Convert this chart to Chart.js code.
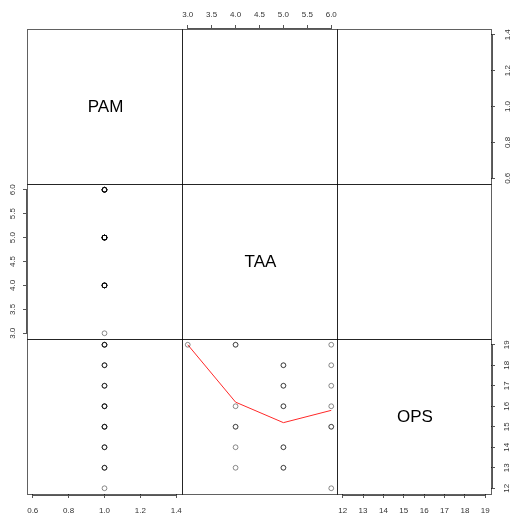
<!DOCTYPE html>
<html>
<head>
<meta charset="utf-8">
<script src="https://cdn.jsdelivr.net/npm/chart.js@4/dist/chart.umd.min.js"></script>
<style>
  html, body { margin: 0; padding: 0; background: #fff; overflow: hidden; }
  #grid { position: relative; width: 510px; height: 520px; overflow: hidden; background: #fff; }
  #grid canvas { position: absolute; }
</style>
</head>
<body>
<div id="grid"></div>
<script>
// Variables of the scatterplot matrix
const varNames = ['PAM', 'TAA', 'OPS'];

// One entry per observation
const pam = [1, 1, 1, 1, 1, 1, 1, 1, 1, 1, 1, 1, 1, 1, 1, 1, 1, 1, 1, 1, 1, 1, 1, 1, 1];
const taa = [3, 4, 4, 4, 4, 4, 4, 4, 5, 5, 5, 5, 5, 5, 5, 5, 5, 5, 6, 6, 6, 6, 6, 6, 6];
const ops = [19, 19, 19, 16, 15, 15, 14, 13, 18, 18, 17, 17, 16, 16, 14, 14, 13, 13, 19, 18, 17, 16, 15, 15, 12];

// Smoothed OPS ~ TAA curve
const smoothTaa = [3, 4, 5, 6];
const smoothOps = [19, 16.2, 15.2, 15.8];

// Axis tick labels
const pamTicks = ['0.6', '0.8', '1.0', '1.2', '1.4'];
const taaTicks = ['3.0', '3.5', '4.0', '4.5', '5.0', '5.5', '6.0'];
const opsTicks = ['12', '13', '14', '15', '16', '17', '18', '19'];

const columns = [pam, taa, ops];
const tickSets = [pamTicks, taaTicks, opsTicks];

// Panel edges on the page
const edgesX = [27, 182, 337, 491];
const edgesY = [29, 184, 339, 494];
const M = 30;

// Plot limits: zero-width ranges are widened, then 4% extension on each side
function limits(vals) {
  let lo = Math.min(...vals), hi = Math.max(...vals);
  if (lo === hi) { lo = lo - 0.4 * Math.abs(lo); hi = hi + 0.4 * Math.abs(hi); }
  const d = (hi - lo) * 0.04;
  return [lo - d, hi + d];
}
const ranges = columns.map(limits);

// Panel frame, axis lines and diagonal names
const panelPlugin = {
  id: 'panelDecor',
  afterDraw(chart, args, opts) {
    const ctx = chart.ctx;
    const a = chart.chartArea;
    ctx.save();
    ctx.strokeStyle = 'rgba(0,0,0,0.62)';
    ctx.lineWidth = 1;
    ctx.strokeRect(Math.round(a.left) + 0.5, Math.round(a.top) + 0.5,
                   Math.round(a.right - a.left), Math.round(a.bottom - a.top));
    // axis lines spanning first to last tick
    ctx.strokeStyle = '#555';
    Object.values(chart.scales).forEach(s => {
      if (!s.options.display || !s.ticks.length) return;
      const p0 = s.getPixelForValue(s.ticks[0].value);
      const p1 = s.getPixelForValue(s.ticks[s.ticks.length - 1].value);
      ctx.beginPath();
      const pos = s.options.position;
      if (pos === 'bottom') { const y = Math.round(a.bottom) + 1.5; ctx.moveTo(p0, y); ctx.lineTo(p1, y); }
      if (pos === 'top') { const y = Math.round(a.top) - 0.5; ctx.moveTo(p0, y); ctx.lineTo(p1, y); }
      if (pos === 'left') { const x = Math.round(a.left) - 0.5; ctx.moveTo(x, p0); ctx.lineTo(x, p1); }
      if (pos === 'right') { const x = Math.round(a.right) + 1.5; ctx.moveTo(x, p0); ctx.lineTo(x, p1); }
      ctx.stroke();
    });
    if (opts && opts.text) {
      ctx.fillStyle = '#000';
      ctx.font = '17px "Liberation Sans", Arial, sans-serif';
      ctx.textAlign = 'center';
      ctx.textBaseline = 'middle';
      ctx.fillText(opts.text, (a.left + a.right) / 2 + 1, (a.top + a.bottom) / 2 + 1);
    }
    ctx.restore();
  }
};

function scaleOptions(idx, axis, position, visible) {
  const labels = tickSets[idx];
  const vertical = axis === 'y';
  return {
    type: 'linear',
    position: position,
    display: visible,
    min: ranges[idx][0],
    max: ranges[idx][1],
    afterBuildTicks: s => { s.ticks = labels.map(t => ({ value: parseFloat(t) })); },
    afterFit: s => {
      if (!visible) return;
      if (vertical) s.width = M; else s.height = M;
    },
    border: { display: false },
    grid: {
      display: true, drawOnChartArea: false, drawTicks: true,
      tickLength: 4, color: '#555', lineWidth: 1
    },
    ticks: {
      autoSkip: false,
      callback: (v, i) => labels[i],
      font: { family: '"Liberation Sans", Arial, sans-serif', size: 8 },
      color: '#333',
      padding: vertical ? (position === 'left' ? 5 : 7) : (position === 'top' ? 10 : 13),
      minRotation: vertical ? 90 : 0,
      maxRotation: vertical ? 90 : 0,
      crossAlign: 'center'
    }
  };
}

const grid = document.getElementById('grid');
const n = varNames.length;

for (let r = 0; r < n; r++) {
  for (let c = 0; c < n; c++) {
    const w = edgesX[c + 1] - edgesX[c];
    const h = edgesY[r + 1] - edgesY[r];
    const canvas = document.createElement('canvas');
    canvas.width = w + 2 * M;
    canvas.height = h + 2 * M;
    canvas.style.left = (edgesX[c] - M) + 'px';
    canvas.style.top = (edgesY[r] - M) + 'px';
    canvas.style.width = canvas.width + 'px';
    canvas.style.height = canvas.height + 'px';
    grid.appendChild(canvas);

    // axis sides alternate along the outer edges
    const xPos = (c % 2 === 0) ? 'bottom' : 'top';
    const xVisible = (c % 2 === 0) ? (r === n - 1) : (r === 0);
    const yPos = (r % 2 === 0) ? 'right' : 'left';
    const yVisible = (r % 2 === 0) ? (c === n - 1) : (c === 0);

    const pad = { left: M, right: M, top: M, bottom: M };
    if (xVisible) pad[xPos] = 0;
    if (yVisible) pad[yPos] = 0;

    const datasets = [];
    if (r > c) {
      const xs = columns[c], ys = columns[r];
      datasets.push({
        type: 'scatter',
        data: xs.map((v, i) => ({ x: v, y: ys[i] })),
        pointStyle: 'circle',
        pointRadius: 2.4,
        pointBorderWidth: 1,
        pointBackgroundColor: 'rgba(0,0,0,0)',
        pointBorderColor: 'rgba(0,0,0,0.45)',
        showLine: false
      });
      if (c === 1 && r === 2) {
        datasets.push({
          type: 'line',
          data: smoothTaa.map((v, i) => ({ x: v, y: smoothOps[i] })),
          borderColor: 'rgb(255,40,40)',
          borderWidth: 1,
          pointRadius: 0,
          tension: 0,
          fill: false
        });
      }
    }

    new Chart(canvas, {
      type: 'scatter',
      data: { datasets },
      options: {
        responsive: false,
        animation: false,
        devicePixelRatio: 1,
        events: [],
        layout: { padding: pad },
        clip: false,
        plugins: {
          legend: { display: false },
          tooltip: { enabled: false },
          panelDecor: { text: r === c ? varNames[r] : null }
        },
        scales: {
          x: scaleOptions(c, 'x', xPos, xVisible),
          y: scaleOptions(r, 'y', yPos, yVisible)
        }
      },
      plugins: [panelPlugin]
    });
  }
}
</script>
</body>
</html>
